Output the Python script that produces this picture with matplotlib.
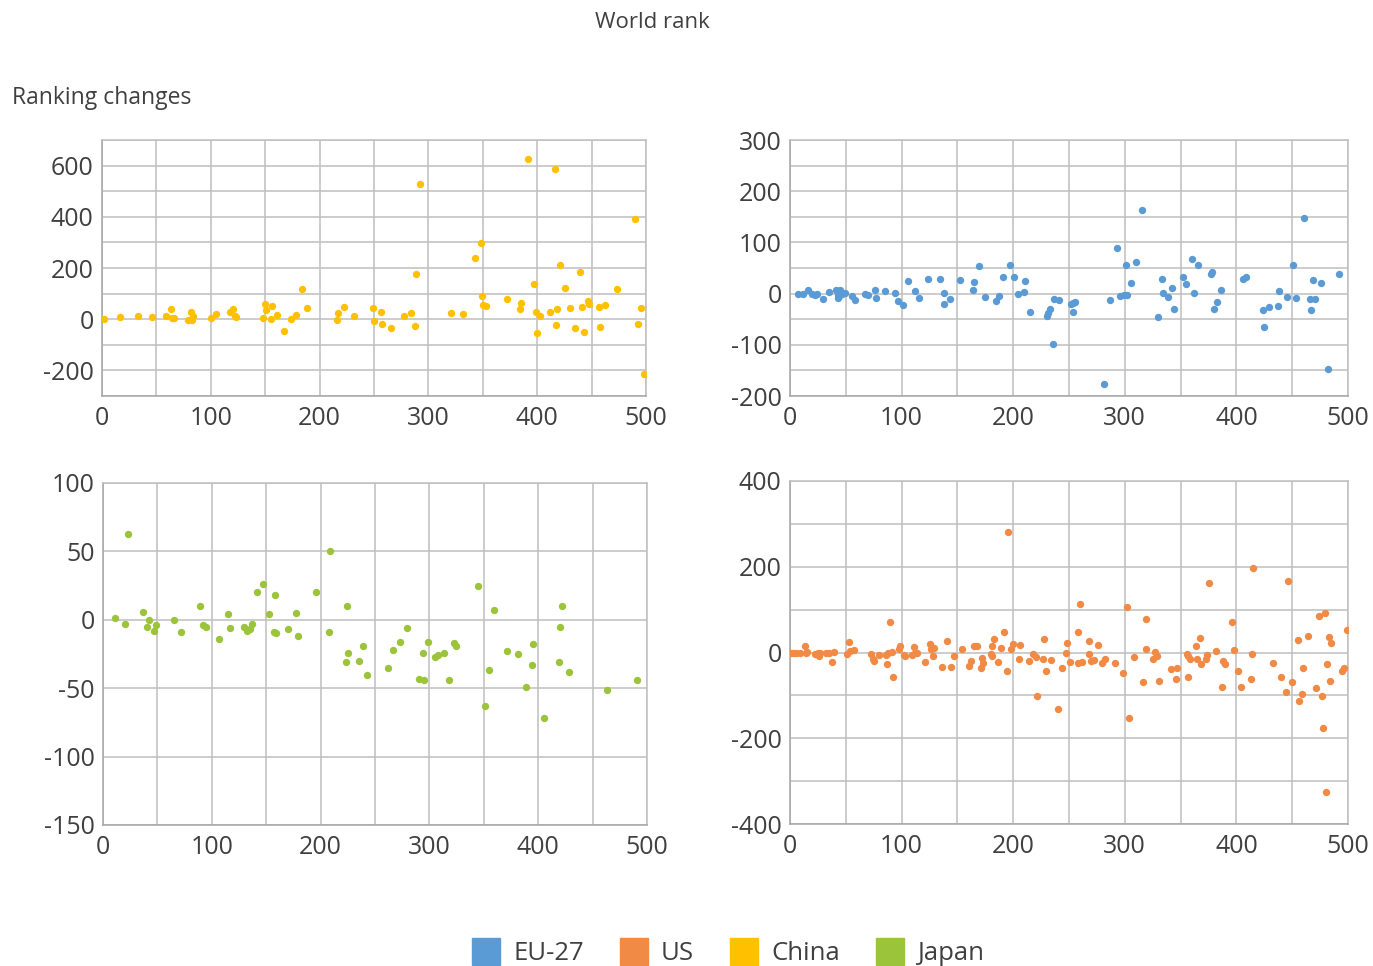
import matplotlib
matplotlib.use("Agg")
import matplotlib.pyplot as plt
from matplotlib.patches import Patch

plt.rcParams['font.family'] = ['Open Sans', 'DejaVu Sans']
plt.rcParams['axes.unicode_minus'] = False

# colores de las series
COL_EU = '#5B9BD5'
COL_US = '#F08A45'
COL_CN = '#FFC000'
COL_JP = '#9BC43B'

# China (arriba izquierda)
china_x = [2, 17, 33, 46, 59, 63, 64, 66, 79, 82, 83, 84, 100, 105, 118, 120, 122, 123,
           148, 150, 151, 155, 156, 161, 167, 174, 178, 184, 188, 216, 217, 222, 232,
           249, 250, 256, 257, 266, 278, 284, 288, 289, 292, 321, 332, 343, 348, 349,
           350, 353, 372, 384, 385, 392, 397, 399, 400, 403, 412, 416, 417, 418, 421,
           426, 430, 435, 439, 441, 443, 447, 448, 457, 458, 462, 473, 490, 493, 495, 498]
china_y = [0, 9, 13, 8, 14, 39, 3, 6, -3, 27, -3, 12, 6, 22, 27, 39, 13, 9,
           5, 60, 36, -1, 51, 16, -47, 0, 18, 117, 42, -5, 26, 47, 13,
           42, -6, 27, -18, -35, 12, 25, -27, 178, 530, 26, 22, 240, 297, 91,
           57, 51, 77, 38, 62, 626, 139, 27, -55, 13, 29, 588, -22, 39, 210,
           121, 43, -36, 184, 48, -51, 70, 60, 48, -31, 56, 119, 392, -17, 45, -216]

# EU-27 (arriba derecha)
eu_x = [7, 12, 16, 20, 22, 24, 30, 35, 41, 43, 43, 45, 45, 47, 49, 56, 58, 67, 70, 76,
        77, 85, 94, 97, 101, 106, 112, 116, 124, 134, 138, 138, 143, 152, 164, 165, 169,
        175, 185, 187, 191, 197, 201, 204, 210, 211, 215, 230, 231, 233, 236, 237, 241,
        252, 254, 255, 254, 281, 287, 293, 296, 299, 301, 302, 306, 310, 315, 330, 333,
        334, 339, 342, 344, 352, 355, 360, 362, 366, 377, 378, 380, 383, 386, 406, 409,
        424, 425, 429, 437, 438, 445, 451, 453, 461, 466, 467, 469, 470, 476, 482, 492]
eu_y = [-1, -1, 8, -1, -2, -1, -10, 3, 7, -2, -8, 7, -3, -1, 1, -5, -12, 0, -2, 8,
        -8, 5, 2, -15, -23, 25, 5, -8, 29, 29, 1, -21, -11, 27, 7, 22, 53,
        -6, -15, -4, 33, 56, 33, -1, 3, 25, -36, -43, -38, -31, -98, -11, -13,
        -20, -18, -16, -36, -177, -12, 90, -5, -2, 55, -2, 21, 61, 163, -46, 29,
        1, -7, 10, -31, 33, 18, 68, 2, 55, 38, 42, -31, -16, 8, 29, 33,
        -33, -66, -27, -24, 5, -7, 55, -8, 148, -10, -33, 27, -10, 20, -148, 38]

# Japan (abajo izquierda)
japan_x = [11, 20, 23, 37, 40, 42, 47, 49, 65, 72, 89, 92, 95, 107, 115, 117, 130, 132,
           135, 137, 142, 147, 153, 157, 158, 159, 170, 177, 179, 196, 208, 209, 223, 224,
           225, 235, 239, 243, 262, 267, 273, 279, 290, 294, 295, 299, 305, 308, 313, 318,
           323, 324, 345, 351, 355, 359, 371, 381, 389, 394, 395, 405, 419, 420, 422, 428,
           463, 491]
japan_y = [1, -3, 63, 6, -5, 0, -8, -4, 0, -9, 10, -4, -5, -14, 4, -6, -5, -8,
           -7, -3, 20, 26, 4, -9, 18, -10, -7, 5, -12, 20, -9, 50, -31, 10,
           -24, -30, -19, -40, -35, -22, -16, -6, -43, -24, -44, -16, -27, -26, -24, -44,
           -17, -19, 25, -63, -37, 7, -23, -25, -49, -33, -18, -72, -31, -5, 10, -38,
           -51, -44]

# US (abajo derecha)
us_x = [1, 4, 5, 9, 13, 14, 15, 22, 25, 26, 27, 32, 35, 38, 39, 51, 53, 54, 57, 73,
        74, 75, 80, 86, 87, 88, 90, 91, 92, 98, 99, 102, 103, 109, 111, 112, 114, 121,
        125, 126, 128, 129, 136, 141, 144, 147, 154, 160, 162, 165, 168, 171, 172, 173,
        180, 181, 181, 183, 186, 189, 192, 194, 195, 198, 200, 205, 206, 214, 218, 220,
        221, 227, 228, 229, 234, 240, 244, 247, 248, 251, 258, 258, 260, 262, 268, 268,
        270, 272, 276, 280, 282, 291, 298, 302, 304, 308, 316, 319, 319, 325, 327, 329,
        331, 341, 346, 347, 356, 357, 358, 357, 364, 365, 367, 368, 373, 374, 375, 382,
        387, 388, 390, 396, 398, 401, 404, 413, 414, 415, 433, 440, 444, 446, 450, 455,
        456, 459, 460, 464, 471, 474, 477, 478, 479, 480, 481, 483, 484, 485, 495, 496, 499]
us_y = [-1, -2, 0, -2, 15, -1, 1, -4, 0, -7, 0, -2, -2, -23, 2, -3, 24, 3, 5, -3,
        -16, -20, -5, -6, -27, 0, 70, 1, -56, 9, 16, -6, -9, -6, 13, 0, -1, -22,
        19, 9, -7, 10, -33, 26, -33, -7, 9, -31, -20, 16, 16, -36, -13, -24,
        -3, 15, -9, 31, -21, 10, 48, -44, 282, 7, 20, -16, 18, -19, -4, -11,
        -101, -16, 31, -44, -18, -131, -37, 0, 23, -21, 48, -25, 114, -23, 27, -4,
        -19, -17, 17, -25, -16, -24, -48, 106, -153, -11, -68, 9, 79, -16, 2, -8,
        -67, -39, -61, -35, -4, -9, -16, -57, 15, -16, 33, -27, -15, -6, 162, 4,
        -81, -19, -27, 72, 6, -44, -81, -61, -4, 197, -25, -57, -93, 167, -68, 30,
        -113, -97, -37, 38, -83, 84, -101, -175, 93, -325, -26, 36, -66, 23, -43, -36, 52]

W, H = 1373, 966
fig = plt.figure(figsize=(W / 100, H / 100), dpi=100)


def ejes(x0, y0, x1, y1):
    # posiciones en pixeles de la imagen -> fracciones de figura
    return fig.add_axes([x0 / W, 1 - y1 / H, (x1 - x0) / W, (y1 - y0) / H])


def panel(ax, xs, ys, color, ylim, ystep, yticks):
    ax.scatter(xs, ys, s=28, color=color, linewidths=0, zorder=3)
    ax.set_xlim(0, 500)
    ax.set_ylim(*ylim)
    ax.set_xticks(range(0, 501, 100))
    ax.set_xticks(range(0, 501, 50), minor=True)
    ax.set_yticks(yticks)
    ax.set_yticks(range(ylim[0], ylim[1] + 1, ystep), minor=True)
    ax.grid(True, which='both', color='#BFBFBF', linewidth=1.1, zorder=0)
    ax.set_axisbelow(True)
    for s in ax.spines.values():
        s.set_color('#BFBFBF')
        s.set_linewidth(1.1)
    ax.spines['left'].set_color('#A6A6A6')
    ax.spines['bottom'].set_color('#A6A6A6')
    ax.tick_params(which='both', length=0, labelsize=18, labelcolor='#404040')
    ax.tick_params(axis='x', pad=7)
    ax.tick_params(axis='y', pad=6)


ax1 = ejes(102, 140, 646, 396)
panel(ax1, china_x, china_y, COL_CN, (-300, 700), 100, [-200, 0, 200, 400, 600])

ax2 = ejes(790, 140, 1348, 396)
panel(ax2, eu_x, eu_y, COL_EU, (-200, 300), 50, [-200, -100, 0, 100, 200, 300])

ax3 = ejes(103, 483, 647, 825)
panel(ax3, japan_x, japan_y, COL_JP, (-150, 100), 50, [-150, -100, -50, 0, 50, 100])

ax4 = ejes(790, 481, 1348, 824)
panel(ax4, us_x, us_y, COL_US, (-400, 400), 100, [-400, -200, 0, 200, 400])

fig.text(652 / W, 1 - 23 / H, 'World rank', ha='center', va='center', fontsize=16, color='#404040')
fig.text(12 / W, 1 - 98 / H, 'Ranking changes', ha='left', va='center', fontsize=16.5, color='#404040')

handles = [Patch(color=COL_EU, label='EU-27'), Patch(color=COL_US, label='US'),
           Patch(color=COL_CN, label='China'), Patch(color=COL_JP, label='Japan')]
leg = fig.legend(handles=handles, loc='lower center', bbox_to_anchor=(728 / W, -0.024), ncol=4,
                 frameon=False, fontsize=18.5, handlelength=1.1, handleheight=1.2,
                 handletextpad=0.5, columnspacing=1.4)
for t in leg.get_texts():
    t.set_color('#404040')

fig.savefig('out.png', dpi=100)
